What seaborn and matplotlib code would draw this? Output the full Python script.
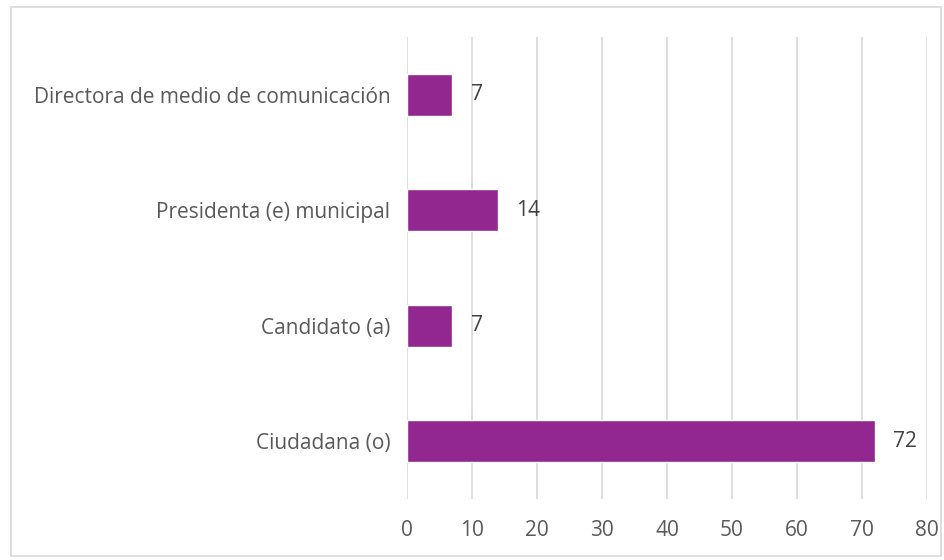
import matplotlib
matplotlib.use("Agg")
import matplotlib.pyplot as plt
import matplotlib.patches as mpatches
import seaborn as sns
import pandas as pd

categories = ["Directora de medio de comunicación", "Presidenta (e) municipal",
              "Candidato (a)", "Ciudadana (o)"]
values = [7, 14, 7, 72]
x_ticks = [0, 10, 20, 30, 40, 50, 60, 70, 80]

sns.set_style("white")
plt.rcParams['font.family'] = ['Open Sans', 'DejaVu Sans']

df = pd.DataFrame({"categoria": categories, "valor": values})

fig = plt.figure(figsize=(9.45, 5.6), dpi=100)
ax = fig.add_axes([407 / 945, 1 - 499 / 560, 520 / 945, 462 / 560])

sns.barplot(data=df, y="categoria", x="valor", orient="h", color="#92278F",
            width=0.36, saturation=1, ax=ax, zorder=3)

for i, v in enumerate(values):
    ax.annotate(str(v), xy=(v, i), xytext=(13, 0), textcoords="offset points",
                va="center", ha="left", fontsize=15, color="#404040")

ax.set_xlim(0, 80)
ax.set_ylim(3.5, -0.5)
ax.set_xticks(x_ticks)
ax.xaxis.grid(True, color="#d9d9d9", linewidth=1.2, zorder=0)
ax.set_axisbelow(True)
for s in ax.spines.values():
    s.set_visible(False)
ax.set_xlabel("")
ax.set_ylabel("")
ax.tick_params(axis="both", length=0, labelsize=15, colors="#595959")
ax.tick_params(axis="y", pad=12)
ax.tick_params(axis="x", pad=15)

fig.patches.append(mpatches.Rectangle((11 / 945, 1 - 556 / 560), 930 / 945, 549 / 560,
                                      transform=fig.transFigure, fill=False,
                                      edgecolor="#d9d9d9", linewidth=1.2))

fig.savefig("out.png", dpi=100, facecolor="white")
